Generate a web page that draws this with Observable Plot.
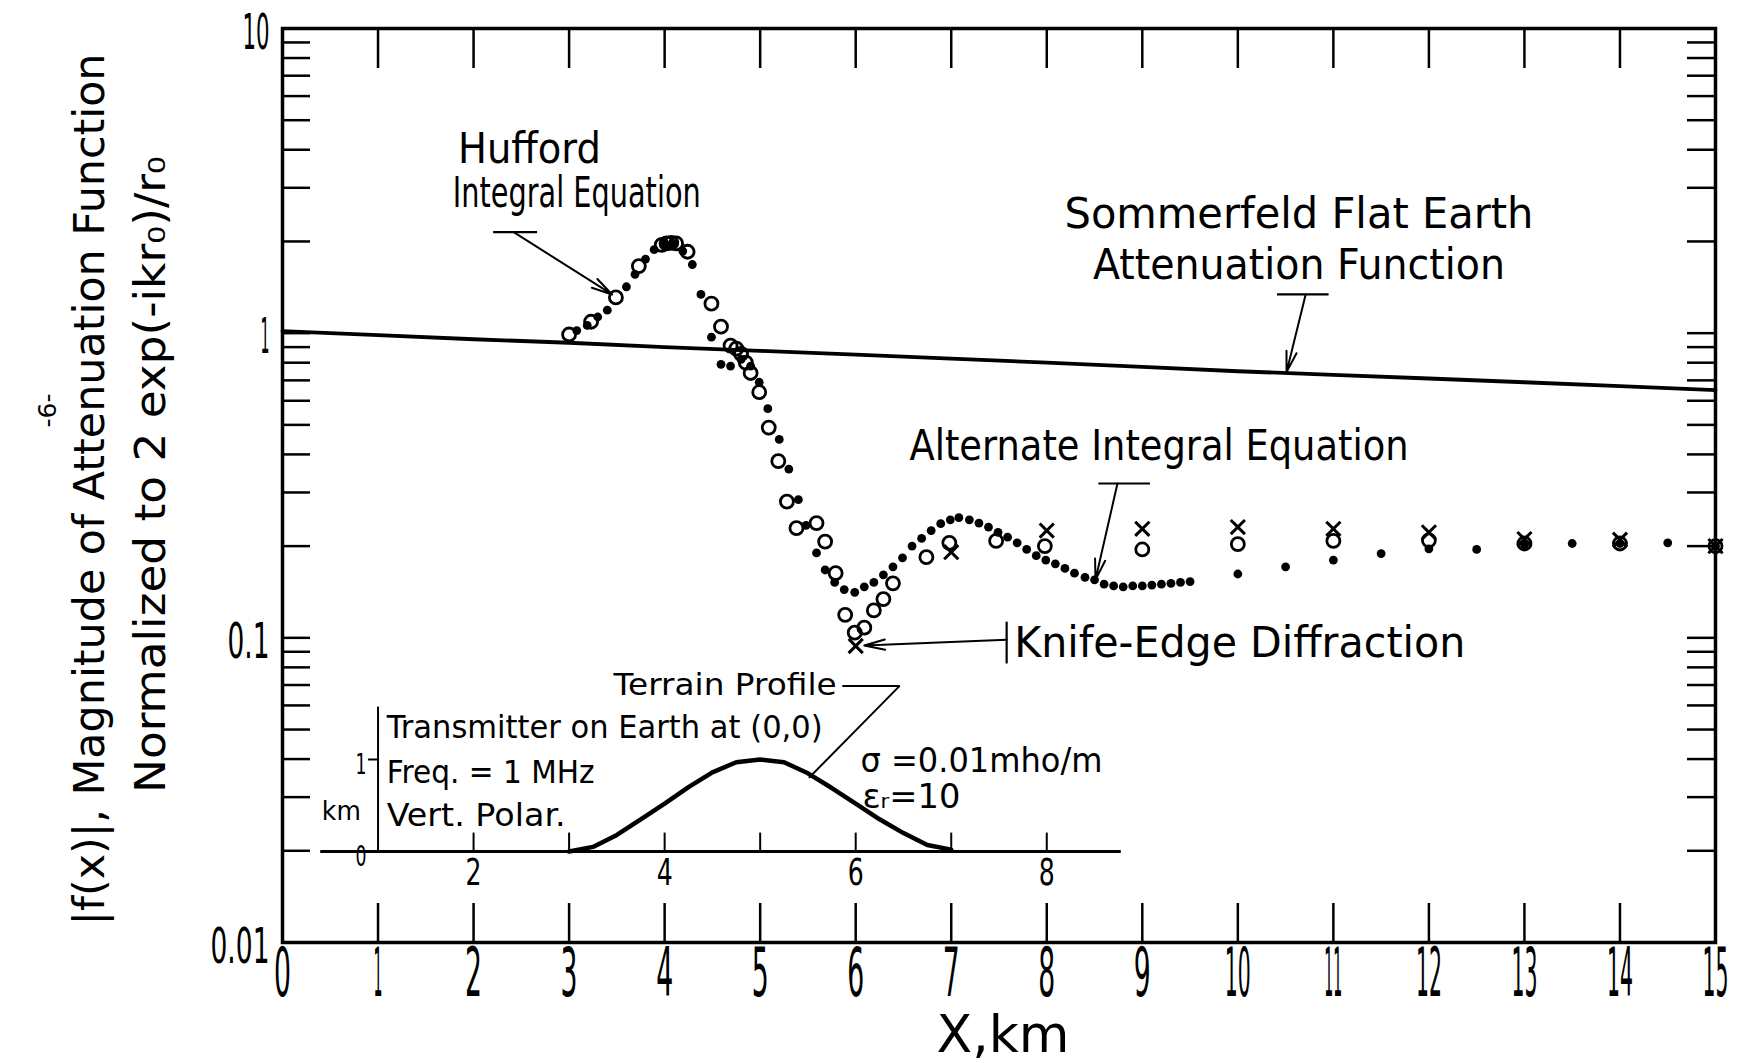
<!DOCTYPE html>
<html><head><meta charset="utf-8">
<script src="https://cdn.jsdelivr.net/npm/d3@7"></script>
<script src="https://cdn.jsdelivr.net/npm/@observablehq/plot@0.6"></script>
<style>
html,body{margin:0;padding:0;background:#fff;}
#wrap{position:relative;width:1738px;height:1063px;}
#wrap svg{position:absolute;left:0;top:0;}
</style></head><body><div id="wrap"></div>
<script>
// ---------- data ----------
const xTicks = d3.range(0, 16);
const yMinorTicks = [0.02,0.03,0.04,0.05,0.06,0.07,0.08,0.09,0.1,0.2,0.3,0.4,0.5,0.6,0.7,0.8,0.9,1,2,3,4,5,6,7,8,9];
const yTickValues = [0.01, 0.1, 1, 10];
const yTickText = ["0.01", "0.1", "1", "10"];

const sommerfeldX = [0,1,2,3,4,5,6,7,8,9,10,11,12,13,14,15];
const sommerfeldY = [1.015,0.985,0.955,0.93,0.90,0.875,0.85,0.825,0.80,0.775,0.75,0.73,0.71,0.69,0.67,0.65];

const huffordX = [3.0,3.23,3.49,3.73,3.97,4.02,4.07,4.12,4.24,4.49,4.59,4.69,4.75,4.80,4.85,4.90,4.99,5.09,5.19,5.28,5.38,5.59,5.68,5.79,5.89,5.99,6.09,6.19,6.29,6.39,6.74,6.98,7.47,7.98,9,10,11,12,13,14,15];
const huffordY = [0.99,1.09,1.31,1.66,1.95,1.97,1.98,1.97,1.85,1.25,1.05,0.91,0.89,0.855,0.80,0.74,0.64,0.49,0.38,0.28,0.229,0.238,0.207,0.163,0.119,0.104,0.108,0.123,0.134,0.151,0.184,0.205,0.208,0.200,0.195,0.203,0.208,0.209,0.204,0.204,0.20];

const alternateX = [3.08,3.19,3.30,3.40,3.60,3.69,3.80,3.89,3.99,4.09,4.19,4.29,4.38,4.49,4.59,4.69,4.80,4.90,4.99,5.08,5.20,5.30,5.40,5.48,5.59,5.68,5.78,5.88,5.99,6.09,6.19,6.29,6.39,6.49,6.59,6.69,6.79,6.89,6.99,7.08,7.19,7.29,7.39,7.49,7.59,7.69,7.79,7.89,7.99,8.09,8.19,8.29,8.40,8.50,8.60,8.70,8.80,8.90,9.00,9.10,9.20,9.30,9.40,9.50,10.0,10.5,11.0,11.5,12.0,12.5,13.0,13.5,14.0,14.5,15.0];
const alternateY = [1.02,1.06,1.13,1.19,1.42,1.56,1.75,1.88,1.96,1.97,1.86,1.68,1.34,0.97,0.79,0.78,0.82,0.78,0.69,0.565,0.448,0.358,0.284,0.234,0.19,0.167,0.152,0.144,0.141,0.147,0.152,0.161,0.171,0.183,0.200,0.212,0.225,0.237,0.244,0.248,0.244,0.238,0.231,0.222,0.214,0.205,0.195,0.186,0.180,0.175,0.169,0.163,0.158,0.155,0.150,0.148,0.147,0.148,0.148,0.149,0.150,0.151,0.152,0.153,0.162,0.171,0.180,0.189,0.196,0.195,0.202,0.204,0.204,0.205,0.20];

const knifeX = [6,7,8,9,10,11,12,13,14,15];
const knifeY = [0.094,0.191,0.225,0.228,0.231,0.228,0.222,0.211,0.210,0.20];

// terrain profile (inset, km)
const terrainX = [3,3.25,3.5,3.75,4,4.25,4.5,4.75,5,5.25,5.5,5.75,6,6.25,6.5,6.75,7];
const terrainH = [0,0.05,0.18,0.35,0.52,0.70,0.86,0.97,1.0,0.97,0.85,0.69,0.52,0.35,0.2,0.07,0.02];
const insetTicks = [2,3,4,5,6,7,8];
const insetTickLabels = [2,4,6,8];
const insetBaseX = [0.4, 8.78];
const insetAxisX = 1;
const insetAxisTop = 1.57;

// annotations (data coordinates)
const mainLabels = [
  {x: 2.585, y: 3.61, text: "Hufford"},
  {x: 3.08, y: 2.59, text: "Integral Equation"},
  {x: 10.64, y: 2.22, text: "Sommerfeld Flat Earth"},
  {x: 10.64, y: 1.51, text: "Attenuation Function"},
  {x: 9.175, y: 0.382, text: "Alternate Integral Equation"},
  {x: 10.02, y: 0.0863, text: "Knife-Edge Diffraction"}
];
const leaderBars = [
  {x1: 2.205, y1: 2.146, x2: 2.665, y2: 2.146},
  {x1: 10.41, y1: 1.34, x2: 10.95, y2: 1.34},
  {x1: 8.54, y1: 0.321, x2: 9.08, y2: 0.321},
  {x1: 7.58, y1: 0.0824, x2: 7.58, y2: 0.113}
];
const leaderArrows = [
  {x1: 2.42, y1: 2.146, x2: 3.45, y2: 1.34},
  {x1: 10.71, y1: 1.34, x2: 10.51, y2: 0.745},
  {x1: 8.74, y1: 0.321, x2: 8.51, y2: 0.155},
  {x1: 7.58, y1: 0.0986, x2: 6.09, y2: 0.0944}
];
const insetLabels = [
  {x: 5.80, y: 1.70, text: "Terrain Profile", anchor: "end", size: 30},
  {x: 1.09, y: 1.23, text: "Transmitter on Earth at (0,0)", anchor: "start", size: 32},
  {x: 1.09, y: 0.74, text: "Freq. = 1 MHz", anchor: "start", size: 32},
  {x: 1.09, y: 0.28, text: "Vert. Polar.", anchor: "start", size: 32},
  {x: 0.82, y: 0.34, text: "km", anchor: "end", size: 27},
  {x: 6.05, y: 0.86, text: "σ =0.01mho/m", anchor: "start", size: 34},
  {x: 6.07, y: 0.47, text: "εᵣ=10", anchor: "start", size: 34}
];
const insetLeader = [
  {x1: 5.86, y1: 1.80, x2: 6.46, y2: 1.80},
  {x1: 6.46, y1: 1.80, x2: 5.51, y2: 0.80}
];
const insetYLabels = [{y: 0, text: "0"}, {y: 1, text: "1"}];

// ---------- layout ----------
const W = 1738, H = 1063, ML = 282, MR = 23, MT = 28, MB = 121;
const FW = W - ML - MR, FH = H - MT - MB;
const FONT = "DejaVu Sans";

const zip = (xs, ys) => xs.map((x, i) => ({x, y: ys[i]}));
const sommerfeld = zip(sommerfeldX, sommerfeldY);
const hufford = zip(huffordX, huffordY);
const alternate = zip(alternateX, alternateY);
const knife = zip(knifeX, knifeY);
const terrain = zip(terrainX, terrainH);

const main = Plot.plot({
  width: W, height: H,
  marginLeft: ML, marginRight: MR, marginTop: MT, marginBottom: MB,
  style: {background: "transparent", fontFamily: FONT, overflow: "visible"},
  x: {domain: [0, 15], axis: null},
  y: {type: "log", domain: [0.01, 10], axis: null},
  marks: [
    Plot.tickX(xTicks, {x: d => d, insetTop: FH - 39, strokeWidth: 2.5}),
    Plot.tickX(xTicks, {x: d => d, insetBottom: FH - 40, strokeWidth: 2.5}),
    Plot.tickY(yMinorTicks, {y: d => d, insetRight: FW - 28, strokeWidth: 2.5}),
    Plot.tickY(yMinorTicks, {y: d => d, insetLeft: FW - 28, strokeWidth: 2.5}),
    Plot.frame({stroke: "#000", strokeWidth: 3.5}),
    Plot.line(sommerfeld, {x: "x", y: "y", stroke: "#000", strokeWidth: 3.8}),
    Plot.dot(alternate, {x: "x", y: "y", r: 4.4, fill: "#000", stroke: null}),
    Plot.dot(hufford, {x: "x", y: "y", r: 6.5, fill: "none", stroke: "#000", strokeWidth: 2.8}),
    Plot.dot(knife, {x: "x", y: "y", symbol: "times", r: 6.5, stroke: "#000", strokeWidth: 3}),
    Plot.link(leaderBars, {x1: "x1", y1: "y1", x2: "x2", y2: "y2", stroke: "#000", strokeWidth: 2.2}),
    Plot.arrow(leaderArrows, {x1: "x1", y1: "y1", x2: "x2", y2: "y2", stroke: "#000", strokeWidth: 2, headLength: 16, headAngle: 28}),
    Plot.text(mainLabels, {x: "x", y: "y", text: "text", lineAnchor: "bottom", fontSize: 42, fill: "#000"}),
    // tick labels
    Plot.text(xTicks, {x: d => d, text: d => String(d), frameAnchor: "bottom", dy: 32, lineAnchor: "middle", fontSize: 68}),
    Plot.text(yTickValues, {y: d => d, text: (d, i) => yTickText[i], frameAnchor: "left", textAnchor: "end", dx: -13, dy: 4, lineAnchor: "middle", fontSize: 50}),
    // axis titles
    Plot.text(["X,km"], {frameAnchor: "bottom", textAnchor: "middle", dx: 4, dy: 109, lineAnchor: "bottom", fontSize: 52}),
    Plot.text(["|f(x)|, Magnitude of Attenuation Function"], {frameAnchor: "left", textAnchor: "middle", rotate: -90, dx: -179, dy: 4, lineAnchor: "bottom", fontSize: 42.5}),
    Plot.text(["Normalized to 2 exp(-ikr₀)/r₀"], {frameAnchor: "left", textAnchor: "middle", rotate: -90, dx: -118, dy: -11, lineAnchor: "bottom", fontSize: 42.5}),
    Plot.text(["-6-"], {frameAnchor: "left", textAnchor: "middle", rotate: -90, dx: -227, dy: -75, lineAnchor: "bottom", fontSize: 24})
  ]
});

const inset = Plot.plot({
  width: W, height: H,
  marginLeft: ML, marginRight: MR, marginTop: 759, marginBottom: 212,
  style: {background: "transparent", fontFamily: FONT, overflow: "visible"},
  x: {domain: [0, 15], axis: null},
  y: {domain: [0, 1], axis: null},
  marks: [
    Plot.ruleY([0], {x1: insetBaseX[0], x2: insetBaseX[1], stroke: "#000", strokeWidth: 3}),
    Plot.ruleX(insetTicks, {x: d => d, y1: 0, y2: 0.2, stroke: "#000", strokeWidth: 2}),
    Plot.ruleX([insetAxisX], {x: d => d, y1: 0, y2: insetAxisTop, stroke: "#000", strokeWidth: 2}),
    Plot.ruleY([1], {x1: 0.9, x2: insetAxisX, stroke: "#000", strokeWidth: 2}),
    Plot.line(terrain, {x: "x", y: "y", stroke: "#000", strokeWidth: 4.5}),
    Plot.link(insetLeader, {x1: "x1", y1: "y1", x2: "x2", y2: "y2", stroke: "#000", strokeWidth: 2}),
    Plot.text(insetTickLabels, {x: d => d, y: 0, text: d => String(d), dy: 22, lineAnchor: "middle", fontSize: 37}),
    Plot.text(insetYLabels, {x: 0.88, y: "y", text: "text", textAnchor: "end", dy: 6, lineAnchor: "middle", fontSize: 28}),
    ...insetLabels.map(d => Plot.text([d], {x: "x", y: "y", text: "text", textAnchor: d.anchor, lineAnchor: "bottom", fontSize: d.size}))
  ]
});

const wrap = document.getElementById("wrap");
wrap.appendChild(main);
wrap.appendChild(inset);

// ---------- lettering widths (condensed hand-lettered look) ----------
const fitWidths = {
  "Hufford": 143, "Integral Equation": 248, "Sommerfeld Flat Earth": 469,
  "Attenuation Function": 412, "Alternate Integral Equation": 499,
  "Knife-Edge Diffraction": 451, "Terrain Profile": 223,
  "Transmitter on Earth at (0,0)": 436, "Freq. = 1 MHz": 208, "Vert. Polar.": 179,
  "km": 39, "σ =0.01mho/m": 242, "εᵣ=10": 98, "X,km": 133,
  "|f(x)|, Magnitude of Attenuation Function": 872,
  "Normalized to 2 exp(-ikr₀)/r₀": 637, "-6-": 34
};
const yLabelWidths = {"10": 27, "1": 9, "0.1": 42, "0.01": 59};
[main, inset].forEach(svg => {
  d3.select(svg).selectAll("text").each(function() {
    const t = this.textContent;
    const fs = parseFloat(getComputedStyle(this).fontSize);
    let w = null;
    if (fs === 68) w = t.split("").reduce((s, c) => s + (c === "1" ? 9 : 17), 0);
    else if (fs === 50) w = yLabelWidths[t];
    else if (fs === 37) w = 16;
    else if (fs === 28) w = 11;
    else w = fitWidths[t];
    if (w) {
      this.setAttribute("textLength", w);
      this.setAttribute("lengthAdjust", "spacingAndGlyphs");
    }
  });
});
</script></body></html>
